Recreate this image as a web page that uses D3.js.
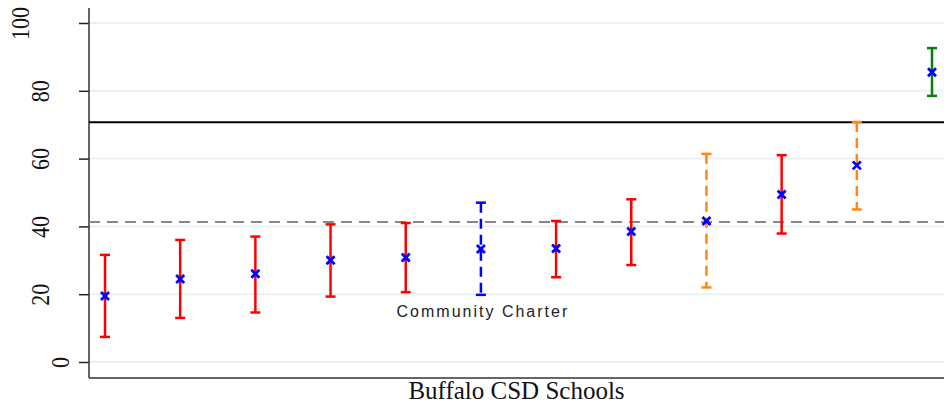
<!DOCTYPE html>
<html>
<head>
<meta charset="utf-8">
<script src="https://cdn.jsdelivr.net/npm/d3@7"></script>
<style>
  html, body { margin: 0; padding: 0; background: #fff; }
  svg { display: block; }
</style>
</head>
<body>
<svg id="chart" width="944" height="406"></svg>
<script>
// schools sorted by estimate
const schools = ["", "", "", "", "", "Community Charter", "", "", "", "", "", ""];
const estimate = [19.5, 24.5, 26, 30, 30.8, 33.3, 33.5, 38.5, 41.6, 49.4, 58, 85.5];
const lower = [7.4, 13, 14.6, 19.3, 20.6, 19.8, 25, 28.6, 22, 37.9, 45, 78.5];
const upper = [31.6, 36, 37, 40.6, 41, 47, 41.6, 48, 61.4, 61, 70.8, 92.6];
// school type: district, charter, other
const kind = ["csd", "csd", "csd", "csd", "csd", "charter", "csd", "csd", "other", "csd", "other", "top"];
const yTicks = [0, 20, 40, 60, 80, 100];
const stateLine = 70.7;
const districtLine = 41.3;

const kindColor = { csd: "#ff0000", charter: "#0000ff", other: "#ff8811", top: "#0a7d0a" };
const kindDash = { csd: null, charter: "10,6", other: "10,6", top: null };

const svg = d3.select("#chart");
const plotL = 89, plotR = 944, plotT = 8, plotB = 378;
const serif = "'Liberation Serif', 'Times New Roman', serif";

const x = d3.scaleLinear().domain([0, schools.length - 1]).range([105, 932]);
const y = d3.scaleLinear().domain([0, 100]).range([362, 23]);

// gridlines
svg.append("g")
  .selectAll("line")
  .data(yTicks)
  .join("line")
  .attr("x1", plotL).attr("x2", plotR)
  .attr("y1", d => y(d)).attr("y2", d => y(d))
  .attr("stroke", "#eaf1f3")
  .attr("stroke-width", 2);

// y axis
const yAxis = svg.append("g")
  .attr("transform", `translate(${plotL},0)`)
  .call(d3.axisLeft(y).tickValues(yTicks).tickSize(10).tickFormat(d3.format("d")));
yAxis.select(".domain").remove();
yAxis.selectAll(".tick line").attr("stroke", "#222").attr("stroke-width", 1.5);
yAxis.selectAll(".tick text")
  .attr("x", 0).attr("y", 0)
  .attr("dy", "0.34em")
  .attr("text-anchor", "middle")
  .style("font-family", serif)
  .style("font-size", "25px")
  .attr("fill", "#111")
  .each(function () {
    // labels sit further out the longer they are
    const w = this.getComputedTextLength() * 0.88;
    const cx = 81 - 1.82 * w - plotL;
    d3.select(this).attr("transform", `translate(${cx},0) rotate(-90) scale(0.88,1)`);
  });

svg.append("line")
  .attr("x1", plotL).attr("x2", plotL).attr("y1", plotT).attr("y2", plotB)
  .attr("stroke", "#333").attr("stroke-width", 1.5);
svg.append("line")
  .attr("x1", plotL).attr("x2", plotR).attr("y1", plotB).attr("y2", plotB)
  .attr("stroke", "#333").attr("stroke-width", 1.5);

// reference lines
svg.append("line")
  .attr("x1", plotL).attr("x2", plotR)
  .attr("y1", y(stateLine)).attr("y2", y(stateLine))
  .attr("stroke", "#000").attr("stroke-width", 2);
svg.append("line")
  .attr("x1", plotL).attr("x2", plotR)
  .attr("y1", y(districtLine)).attr("y2", y(districtLine))
  .attr("stroke", "#888").attr("stroke-width", 2.2)
  .attr("stroke-dasharray", "11,7");

// error bars
const bars = svg.append("g")
  .selectAll("g")
  .data(d3.range(schools.length))
  .join("g")
  .attr("stroke", i => kindColor[kind[i]])
  .attr("stroke-width", 2.5);

bars.append("line")
  .attr("x1", i => x(i)).attr("x2", i => x(i))
  .attr("y1", i => y(upper[i])).attr("y2", i => y(lower[i]))
  .attr("stroke-dasharray", i => kindDash[kind[i]]);
bars.append("line")
  .attr("x1", i => x(i) - 5).attr("x2", i => x(i) + 5)
  .attr("y1", i => y(upper[i])).attr("y2", i => y(upper[i]));
bars.append("line")
  .attr("x1", i => x(i) - 5).attr("x2", i => x(i) + 5)
  .attr("y1", i => y(lower[i])).attr("y2", i => y(lower[i]));

// point estimates
const m = 4;
svg.append("g")
  .selectAll("path")
  .data(d3.range(schools.length))
  .join("path")
  .attr("d", i => {
    const cx = x(i), cy = y(estimate[i]);
    return `M${cx - m},${cy - m}L${cx + m},${cy + m}M${cx - m},${cy + m}L${cx + m},${cy - m}`;
  })
  .attr("stroke", "#0000ff")
  .attr("stroke-width", 2.8)
  .attr("fill", "none");

// school labels
svg.append("g")
  .selectAll("text")
  .data(d3.range(schools.length).filter(i => schools[i]))
  .join("text")
  .attr("x", i => x(i) + 2)
  .attr("y", i => y(lower[i]) + 22)
  .attr("text-anchor", "middle")
  .style("font-family", "'Liberation Sans', Arial, sans-serif")
  .style("font-size", "16px")
  .style("letter-spacing", "2px")
  .attr("fill", "#222")
  .text(i => schools[i]);

// x title
svg.append("text")
  .attr("x", (plotL + plotR) / 2)
  .attr("y", 399)
  .attr("text-anchor", "middle")
  .style("font-family", serif)
  .style("font-size", "25px")
  .attr("fill", "#111")
  .text("Buffalo CSD Schools");
</script>
</body>
</html>
